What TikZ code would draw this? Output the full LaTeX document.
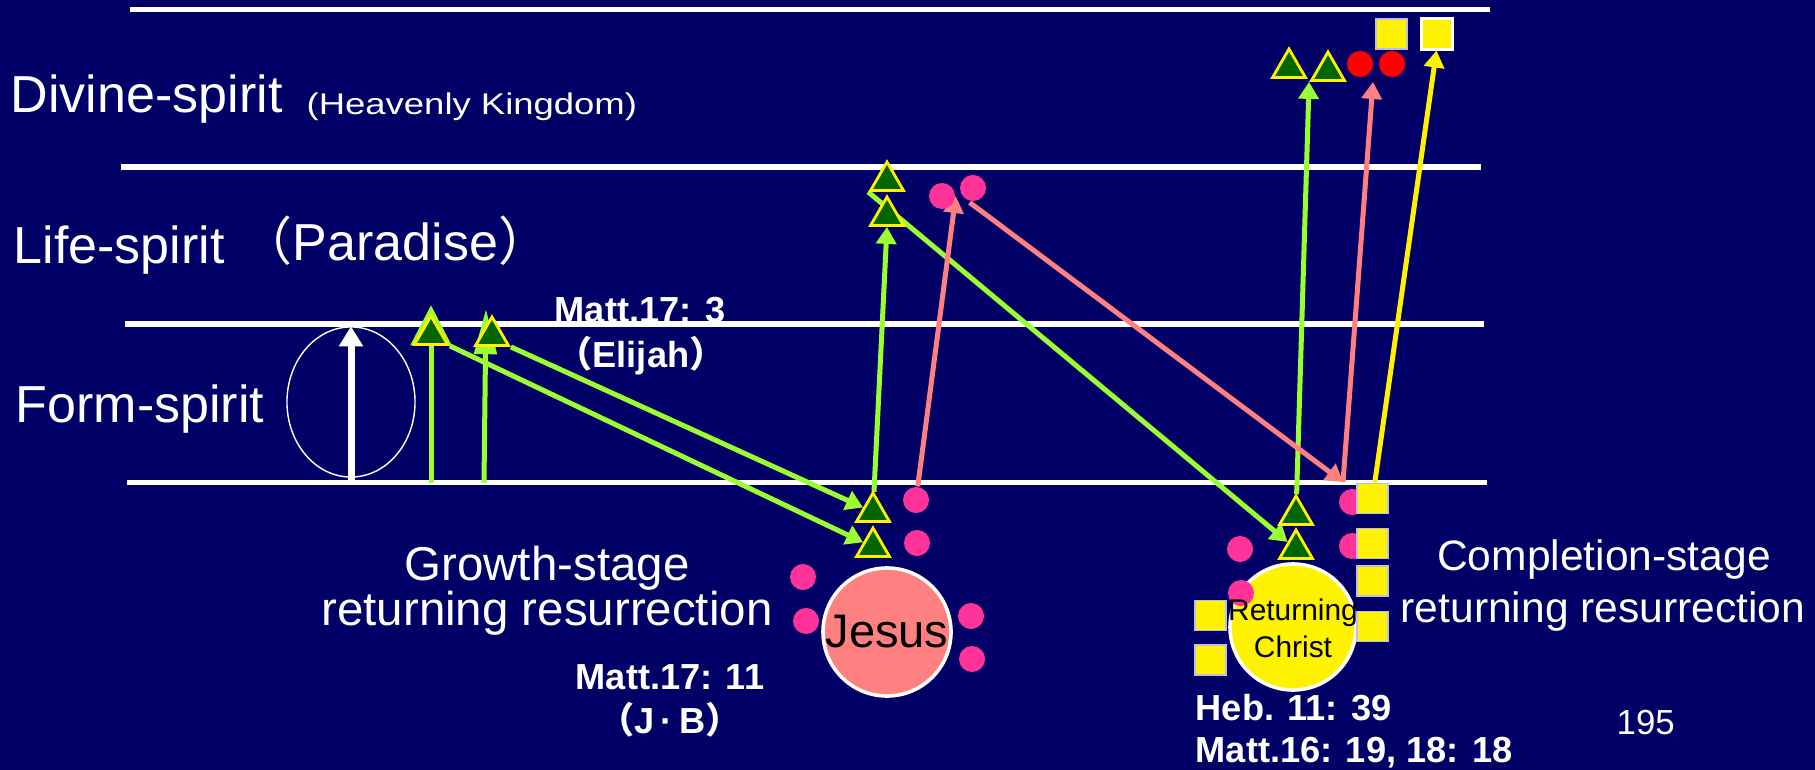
\documentclass[tikz,border=0pt]{standalone}
\usepackage{fontspec}
\setmainfont{Liberation Sans}
\newfontfamily\cjk{Noto Sans CJK JP}
\usetikzlibrary{shapes.geometric,arrows.meta}
\definecolor{navy}{RGB}{0,0,102}
\definecolor{limegreen}{RGB}{153,255,51}
\definecolor{leafgreen}{RGB}{0,102,0}
\definecolor{hotpink}{RGB}{255,51,153}
\definecolor{salmon}{RGB}{255,128,128}
\definecolor{lavender}{RGB}{190,190,230}
\newcommand{\fsz}[1]{\fontsize{#1}{#1}\selectfont}
\pgfdeclarelayer{back}
\pgfdeclarelayer{links}
\pgfsetlayers{back,links,main}

\begin{document}
\begin{tikzpicture}[x=0.01cm,y=-0.01cm,
    plane/.style={white,line width=0.05cm},
    lvltext/.style={white,inner sep=0,anchor=base west,font=\fsz{14.8}},
    reftext/.style={white,inner sep=0,anchor=base,font=\bfseries\fsz{10.3}},
    stagetext/.style={white,inner sep=0,anchor=base},
    tri/.style={regular polygon,regular polygon sides=3,minimum size=0.38cm,inner sep=0,
        fill=leafgreen,draw=yellow,line width=0.8pt},
    pinkdot/.style={circle,minimum size=0.26cm,inner sep=0,fill=hotpink},
    reddot/.style={pinkdot,fill=red},
    ybox/.style={rectangle,minimum width=0.31cm,minimum height=0.3cm,inner sep=0,
        fill=yellow,draw=lavender,line width=0.5pt},
    garrow/.style={limegreen,line width=0.05cm,-{Triangle[length=0.17cm,width=0.2cm]}},
    sarrow/.style={garrow,salmon},
    yarrow/.style={garrow,yellow}]
    \begin{pgfonlayer}{back}
        %Background
        \fill[navy] (0,0) rectangle (1815,770);
        %Levels
        \draw[plane] (130,10) -- (1490,10);
        \draw[plane] (121,167) -- (1481,167);
        \draw[plane] (125,324) -- (1484,324);
        \draw[plane] (127,482) -- (1487,482);
    \end{pgfonlayer}
    %Level names
    \node[lvltext] (divine) at (10,113) {Divine-spirit};
    \node[white,inner sep=0,anchor=base west,font=\fsz{8.5}] (heaven) at (306,115) {\scalebox{1.22}[1]{(Heavenly Kingdom)}};
    \node[lvltext] (life) at (13,263) {Life-spirit};
    \node[lvltext] (paradise) at (240,261) {{\cjk （}Paradise{\cjk ）}};
    \node[lvltext] (form) at (15,422) {Form-spirit};
    %Oval with white arrow
    \node[ellipse,draw=white,line width=0.4pt,minimum width=1.28cm,minimum height=1.5cm,inner sep=0] (oval) at (351,402) {};
    \coordinate (ovalfoot) at (351,485);
    \draw[white,line width=0.07cm,-{Triangle[length=0.2cm,width=0.23cm]}] (ovalfoot) -- (oval.north);
    %Verses
    \node[reftext] (matt3) at (640,322) {Matt.17: 3};
    \node[reftext] (elijah) at (641,367) {{\cjk （}Elijah{\cjk ）}};
    \node[reftext] (matt11) at (670,689) {Matt.17: 11};
    \node[reftext] (jb) at (670,733) {{\cjk （}J\,·\,B{\cjk ）}};
    \node[reftext,anchor=base west] (heb) at (1195,720) {Heb. 11: 39};
    \node[reftext,anchor=base west] (matt16) at (1195,762) {Matt.16: 19, 18: 18};
    %Stages
    \node[stagetext,font=\fsz{13.5}] (growth) at (547,580) {Growth-stage};
    \node[stagetext,font=\fsz{13.5}] (growthret) at (547,625) {returning resurrection};
    \node[stagetext,font=\fsz{12.1}] (compl) at (1604,570) {Completion-stage};
    \node[stagetext,font=\fsz{12.1}] (complret) at (1603,622) {returning resurrection};
    \node[white,inner sep=0,anchor=base west,font=\fsz{9.9}] (page) at (1616,734) {195};
    %Jesus
    \node[circle,fill=salmon,draw=white,line width=1pt,minimum size=1.28cm,inner sep=0,font=\fsz{13.4}] (jesus) at (887,632) {Jesus};
    \node[pinkdot] (pJ1) at (916,500) {};
    \node[pinkdot] (pJ2) at (917,543) {};
    \node[pinkdot] (pJ3) at (803,577) {};
    \node[pinkdot] (pJ4) at (806,621) {};
    \node[pinkdot] (pJ5) at (971,616) {};
    \node[pinkdot] (pJ6) at (972,659) {};
    %Returning Christ
    \node[circle,fill=yellow,draw=white,line width=1pt,minimum size=1.26cm,inner sep=0] (christ) at (1293,627) {};
    \node[pinkdot] (pC1) at (1240,549) {};
    \node[pinkdot] (pC2) at (1241,593) {};
    \node[pinkdot] (pC3) at (1352,502) {};
    \node[pinkdot] (pC4) at (1352,546) {};
    \node[inner sep=0,anchor=base,font=\fsz{8.5}] (christa) at (1293,620) {Returning};
    \node[inner sep=0,anchor=base,font=\fsz{8.5}] (christb) at (1293,657) {Christ};
    \node[ybox] (sqC1) at (1372.5,498.5) {};
    \node[ybox] (sqC2) at (1372.5,543.5) {};
    \node[ybox] (sqC3) at (1372.5,581) {};
    \node[ybox] (sqC4) at (1372.5,626.5) {};
    \node[ybox] (sqL1) at (1210.5,615.5) {};
    \node[ybox] (sqL2) at (1210.5,660) {};
    %Upper spirits
    \node[pinkdot] (pL1) at (942,196) {};
    \node[pinkdot] (pL2) at (973,188) {};
    \node[reddot] (rD1) at (1360,64) {};
    \node[reddot] (rD2) at (1392,64) {};
    \node[ybox] (sqT1) at (1391.5,34) {};
    \node[ybox,draw=white,line width=0.03cm] (sqT2) at (1436.5,34) {};
    %Triangles
    \node[tri] (tF1) at (431,335) {};
    \node[tri] (tF2) at (492,336) {};
    \node[tri] (tJ1) at (873,512) {};
    \node[tri] (tJ2) at (873,547) {};
    \node[tri] (tL1) at (887,181) {};
    \node[tri] (tL2) at (887,216) {};
    \node[tri] (tC1) at (1296,515) {};
    \node[tri] (tC2) at (1296,549) {};
    \node[tri] (tD1) at (1289,68) {};
    \node[tri] (tD2) at (1328,71) {};
    %Arrows
    \coordinate (gF1) at (431,483);
    \coordinate (gF2) at (484,483);
    \coordinate (sBase) at (1343,482);
    \coordinate (sTop) at (1373,82);
    \begin{pgfonlayer}{links}
        \draw[garrow,-{Triangle[length=0.4cm,width=0.4cm]}] (gF1) -- ([yshift=0.08cm]tF1.north);
        \draw[garrow,-{Triangle[length=0.45cm,width=0.22cm]}] (gF2) -- ([shift={(-0.06cm,0.05cm)}]tF2.north);
        \draw[garrow] (tF1.corner 3) -- (tJ2);
        \draw[garrow] (tF2.corner 3) -- (tJ1);
        \draw[garrow] (tJ1) -- (tL2.south);
        \draw[garrow] (tL1.corner 2) -- (tC2);
        \draw[garrow] (tC1) -- (tD2.corner 2);
        \draw[sarrow] (pJ1) -- (pL1.east);
        \draw[sarrow,shorten <=0.08cm] (pL2.south west) -- (sBase);
        \draw[sarrow] (sBase) -- (sTop);
        \draw[yarrow] (sqC1) -- (sqT2.south);
    \end{pgfonlayer}
\end{tikzpicture}
\end{document}
